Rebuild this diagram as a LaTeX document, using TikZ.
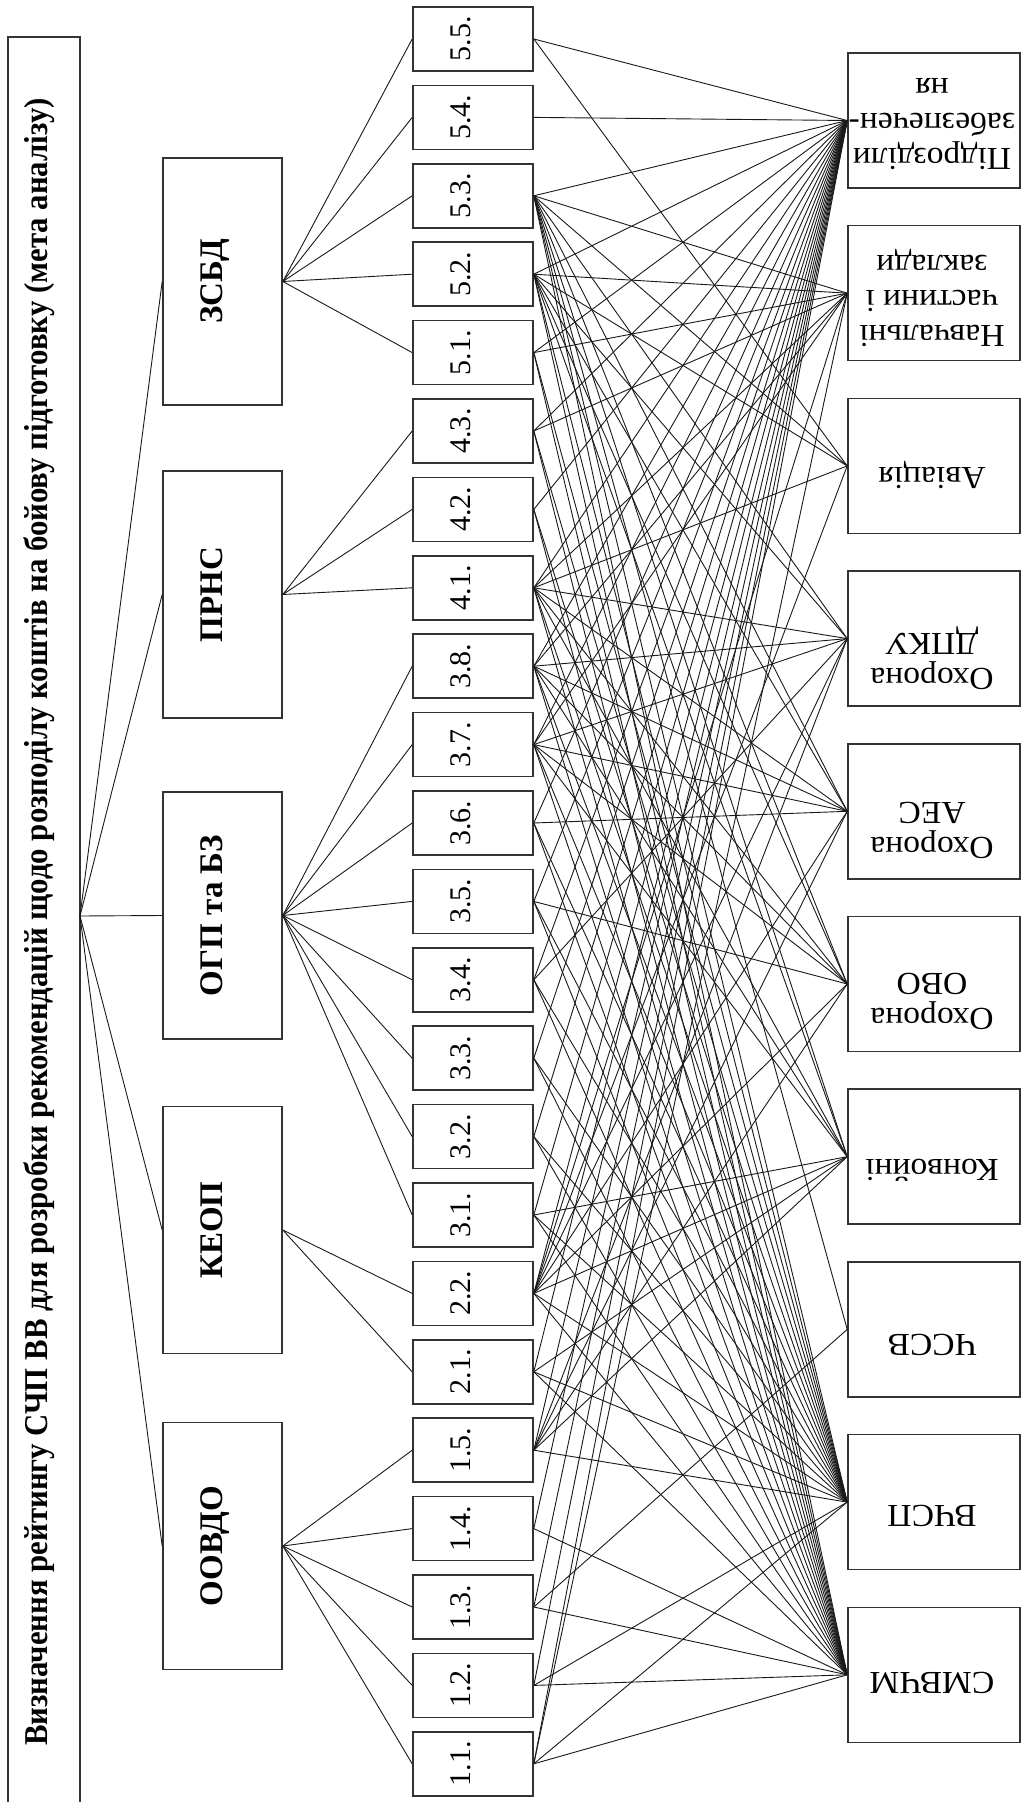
\documentclass[tikz,border=0pt]{standalone}
\usepackage{fontspec}
\setmainfont{Liberation Serif}
\begin{document}
\begin{tikzpicture}[x=0.5pt,y=-0.5pt,
  box/.style={draw=black!80, line width=0.8pt, inner sep=0pt},
  conn/.style={line width=0.45pt, draw=black!90},
  goalfont/.style={font=\bfseries\fontsize{15.4}{18}\selectfont},
  critfont/.style={font=\bfseries\fontsize{16.5}{20}\selectfont},
  subfont/.style={font=\fontsize{15}{18}\selectfont},
  unitfont/.style={font=\fontsize{16}{17.5}\selectfont, align=center}]
\useasboundingbox (0,0) rectangle (1023,1802);
% goal box
\node[box, minimum width=36pt, minimum height=888pt] (goal) at (44,925) {};
\node[goalfont, rotate=90, anchor=base] (goaltext) at (47,922)
  {\scalebox{1}[1.08]{Визначення рейтингу СЧП ВВ для розробки рекомендацій щодо розподілу коштів на бойову підготовку (мета аналізу)}};
\coordinate (hub) at (80,916);
% criteria
\foreach \nm/\yy/\lab in {c5/281.5/ЗСБД, c4/594.5/ПРНС, c3/915.5/ОГП та БЗ, c2/1230/КЕОП, c1/1546/ООВДО}{
  \node[box, minimum width=59.5pt, minimum height=123.5pt] (\nm) at (222.5,\yy) {};
  \node[critfont, rotate=90, anchor=base] (\nm t) at (222,\yy) {\lab};
  \draw[conn] (hub) -- (\nm.west);
}
% sub criteria
\foreach \lab/\nm [count=\k from 0] in {5.5./s55,5.4./s54,5.3./s53,5.2./s52,5.1./s51,
  4.3./s43,4.2./s42,4.1./s41,3.8./s38,3.7./s37,3.6./s36,3.5./s35,3.4./s34,3.3./s33,
  3.2./s32,3.1./s31,2.2./s22,2.1./s21,1.5./s15,1.4./s14,1.3./s13,1.2./s12,1.1./s11}{
  \pgfmathsetmacro{\yy}{39+78.4*\k}
  \node[box, minimum width=60pt, minimum height=32pt] (\nm) at (473,\yy) {};
  \node[subfont, rotate=90, anchor=base] (\nm t) at (470,\yy) {\lab};
}
\foreach \c/\ss in {c5/{s51,s52,s53,s54,s55}, c4/{s41,s42,s43},
  c3/{s31,s32,s33,s34,s35,s36,s37,s38}, c2/{s21,s22}, c1/{s11,s12,s13,s14,s15}}{
  \foreach \s in \ss {\draw[conn] (\c.east) -- (\s.west);}
}
% units
\foreach \lab/\off [count=\j from 0] in {
  {Підрозділи\\забезпечен-\\ня}/0,
  {Навчальні\\частини і\\заклади}/4,
  {Авіація}/9,
  {Охорона\\ДПКУ}/19,
  {Охорона\\АЕС}/16,
  {Охорона\\ОВО}/14,
  {Конвойні}/10,
  {ЧССВ}/12,
  {ВЧСП}/10,
  {СМВЧМ}/5}{
  \pgfmathsetmacro{\yy}{120.5+172.7*\j}
  \node[box, minimum width=86pt, minimum height=67.5pt] (r\j) at (934,\yy) {};
  \node[unitfont, rotate=180] (r\j t) at (932,\yy+\off) {\scalebox{1.05}[1]{\begin{tabular}{@{}c@{}}\lab\end{tabular}}};
}
% sub -> unit links
\foreach \s/\ts in {
  s55/{0,2}, s54/{0}, s53/{0,1,2,3,4,5,6,7,8,9}, s52/{0,1,2,3,4,5,6,8,9},
  s51/{0,1,8,9}, s43/{0,1,8,9}, s42/{0,8,9}, s41/{0,1,2,3,4,5,6,8,9},
  s38/{0,1,3,4,5,6,8,9}, s37/{0,1,3,4,5,6,8,9}, s36/{0,4,8,9}, s35/{0,5,8,9},
  s34/{0,3,8,9}, s33/{0,8,9}, s32/{0,8,9}, s31/{0,6,8,9},
  s22/{0,1,2,3,4,5,6,8,9}, s21/{0,6,8,9}, s15/{0,3,4,5,6,8}, s14/{0,9},
  s13/{0,7,9}, s12/{0,8,9}, s11/{0,1,8,9}}{
  \foreach \t in \ts {\draw[conn] (\s.east) -- (r\t.west);}
}
\end{tikzpicture}
\end{document}
